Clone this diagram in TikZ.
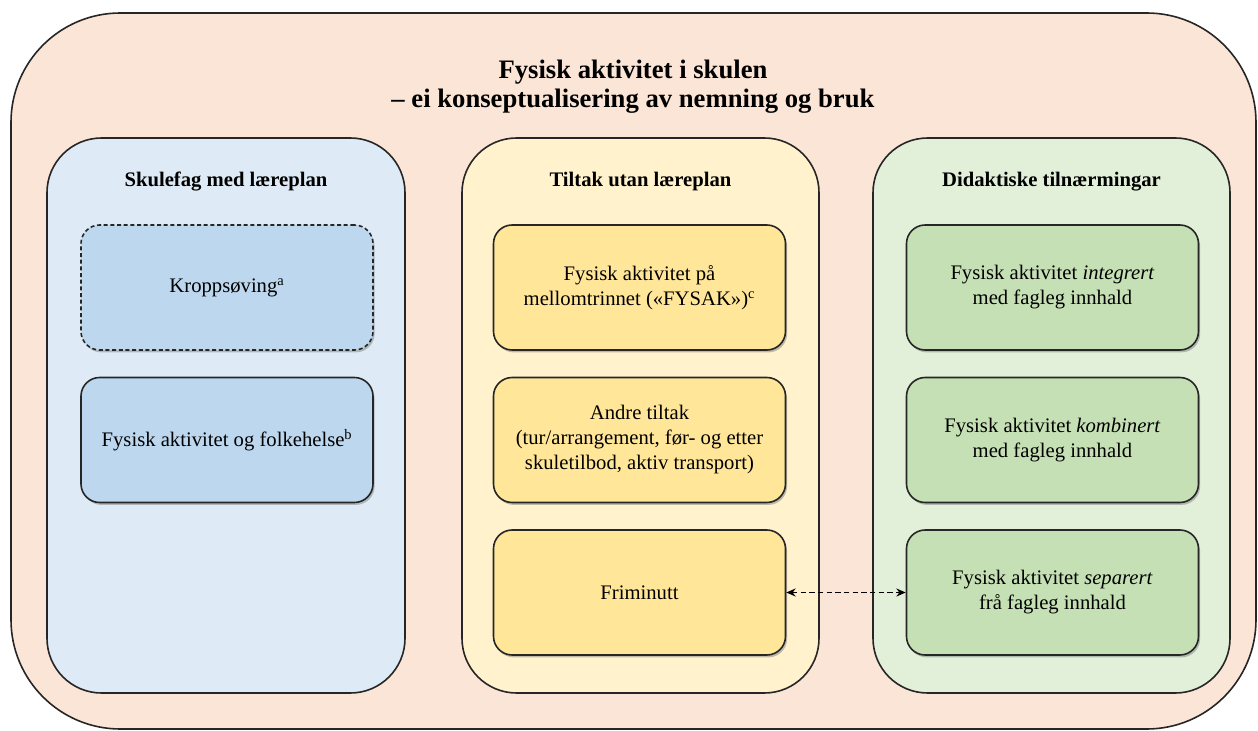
\documentclass[tikz,border=0pt]{standalone}
\usepackage{fontspec}
\setmainfont{Liberation Serif}
\usepackage{xcolor}
\usepackage{tikz}
\usetikzlibrary{arrows.meta,shadows,positioning}
\definecolor{outerfill}{HTML}{FBE5D6}
\definecolor{bluepanel}{HTML}{DEEBF7}
\definecolor{bluebox}{HTML}{BDD7EE}
\definecolor{yellowpanel}{HTML}{FFF2CC}
\definecolor{yellowbox}{HTML}{FFE699}
\definecolor{greenpanel}{HTML}{E2F0D9}
\definecolor{greenbox}{HTML}{C5E0B4}
\newcommand{\bodyfont}{\fontsize{15.5}{18.75}\selectfont}
\newcommand{\headfont}{\fontsize{15.5}{18.75}\selectfont\bfseries}

\begin{document}
\begin{tikzpicture}[x=0.75pt, y=-0.75pt,
    panel/.style={draw=black!85, line width=1.2pt, rounded corners=41pt},
    itembox/.style={draw=black!85, line width=1.2pt, rounded corners=14pt,
        minimum width=219pt, minimum height=93.75pt, align=center,
        font=\bodyfont, inner sep=2pt,
        drop shadow={shadow xshift=1.2pt, shadow yshift=-1.8pt, opacity=0.5}},
    heading/.style={font=\headfont}]
    \useasboundingbox (0,0) rectangle (1258,731);

    % Outer frame
    \draw[fill=outerfill, draw=black!85, line width=1.2pt, rounded corners=82pt]
        (11,13) rectangle (1256,729);
    \node[font=\fontsize{20}{21.75}\selectfont\bfseries, align=center] (title) at (633,86.5)
        {Fysisk aktivitet i skulen\\– ei konseptualisering av nemning og bruk};

    % Three panels
    \draw[panel, fill=bluepanel] (47,138) rectangle (405,693);
    \draw[panel, fill=yellowpanel] (462,138) rectangle (819,693);
    \draw[panel, fill=greenpanel] (873,138) rectangle (1230,693);

    \node[heading] (fag) at (226,182) {Skulefag med læreplan};
    \node[heading] (tiltak) at (640.5,182) {Tiltak utan læreplan};
    \node[heading] (didakt) at (1051.5,182) {Didaktiske tilnærmingar};

    % Skulefag
    \node[itembox, fill=bluebox, dashed, dash pattern=on 3pt off 2pt] (kropp) at (227,287.5)
        {Kroppsøving\textsuperscript{a}};
    \node[itembox, fill=bluebox] (folkehelse) at (227,440)
        {Fysisk aktivitet og folkehelse\textsuperscript{b}};

    % Tiltak utan laereplan
    \node[itembox, fill=yellowbox] (fysak) at (639.5,287.5)
        {Fysisk aktivitet på\\mellomtrinnet («FYSAK»)\textsuperscript{c}};
    \node[itembox, fill=yellowbox] (andre) at (639.5,440)
        {Andre tiltak\\(tur/arrangement, før- og etter\\skuletilbod, aktiv transport)};
    \node[itembox, fill=yellowbox] (frimin) at (639.5,592.5) {Friminutt};

    % Didaktiske tilnaermingar
    \node[itembox, fill=greenbox] (integ) at (1052.5,287.5)
        {Fysisk aktivitet \textit{integrert}\\med fagleg innhald};
    \node[itembox, fill=greenbox] (kombi) at (1052.5,440)
        {Fysisk aktivitet \textit{kombinert}\\med fagleg innhald};
    \node[itembox, fill=greenbox] (separ) at (1052.5,592.5)
        {Fysisk aktivitet \textit{separert}\\frå fagleg innhald};

    % Link
    \draw[dash pattern=on 4pt off 2.5pt, line width=1.4pt,
        {Stealth[length=7pt,width=6pt]}-{Stealth[length=7pt,width=6pt]}]
        (frimin.east) -- (separ.west);
\end{tikzpicture}
\end{document}
